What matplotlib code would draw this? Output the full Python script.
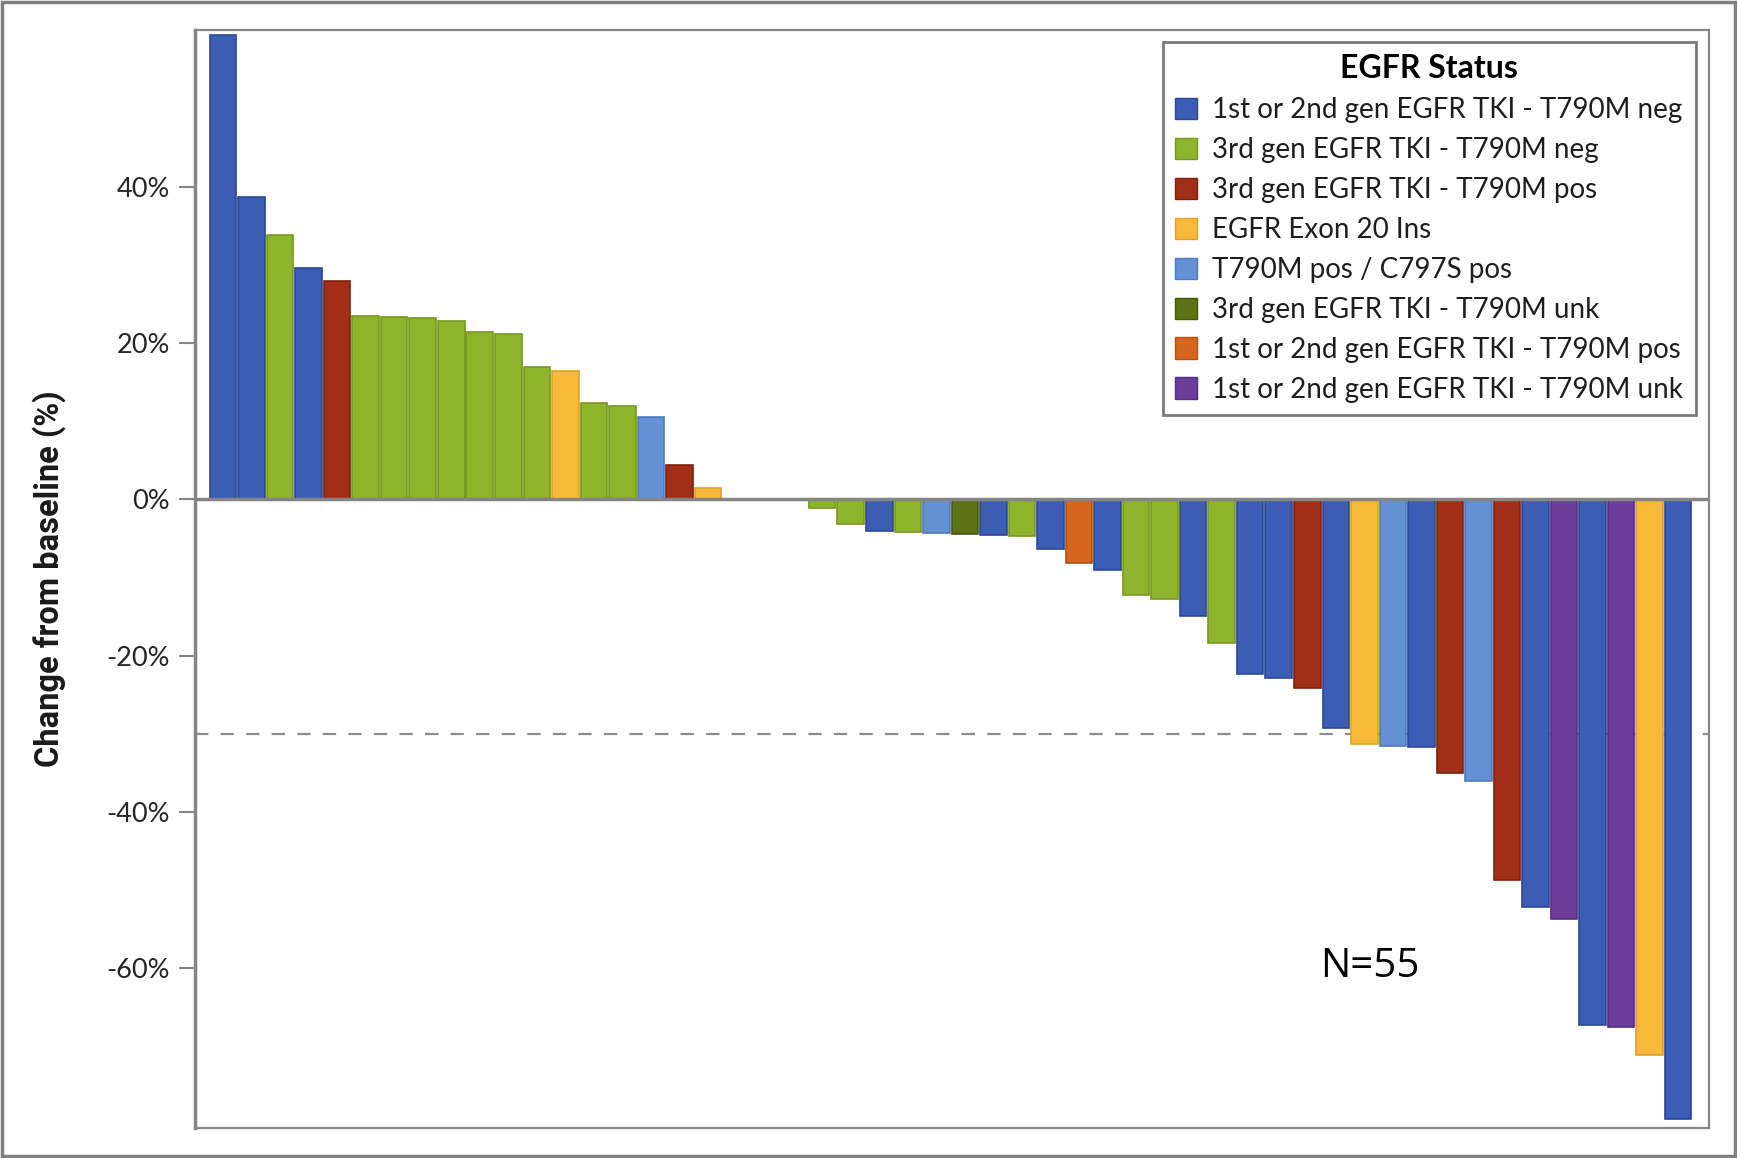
import matplotlib
matplotlib.use("Agg")
import matplotlib.pyplot as plt
from matplotlib.patches import Patch, Rectangle

# EGFR status groups (legend order) and their colours
GROUPS = [
    "1st or 2nd gen EGFR TKI - T790M neg",
    "3rd gen EGFR TKI - T790M neg",
    "3rd gen EGFR TKI - T790M pos",
    "EGFR Exon 20 Ins",
    "T790M pos / C797S pos",
    "3rd gen EGFR TKI - T790M unk",
    "1st or 2nd gen EGFR TKI - T790M pos",
    "1st or 2nd gen EGFR TKI - T790M unk",
]
FILL = ["#3d5cb3", "#8db42b", "#a32e17", "#f7b93a", "#6391d3", "#5d7215", "#d4661f", "#6b3e9b"]
EDGE = ["#2c4896", "#76981f", "#7e200e", "#e0a22a", "#4f7bbd", "#47590c", "#b35212", "#54307e"]

# best % change from baseline, one bar per patient, sorted
change = [59.4, 38.7, 33.9, 29.6, 28.0, 23.5, 23.4, 23.2, 22.9, 21.4, 21.2, 17.0, 16.4,
          12.3, 11.9, 10.6, 4.4, 1.5, 0.0, 0.0, 0.0, -1.1, -3.1, -4.0, -4.2, -4.3, -4.4,
          -4.6, -4.7, -6.4, -8.2, -9.1, -12.3, -12.7, -14.9, -18.4, -22.4, -22.9, -24.2,
          -29.3, -31.3, -31.6, -31.7, -35.1, -36.1, -48.7, -52.2, -53.8, -67.3, -67.6,
          -71.1, -79.4]
# group index of every bar
group = [0, 0, 1, 0, 2, 1, 1, 1, 1, 1, 1, 1, 3, 1, 1, 4, 2, 3, 0, 0, 0, 1, 1, 0, 1, 4,
         5, 0, 1, 0, 6, 0, 1, 1, 0, 1, 0, 0, 2, 0, 3, 4, 0, 2, 4, 2, 0, 7, 0, 7, 3, 0]

yticks = [40, 20, 0, -20, -40, -60]
ytick_labels = [f"{t}%" for t in yticks]
PR_CUTOFF = -30

W, H = 1737, 1158
fig = plt.figure(figsize=(W / 100, H / 100), dpi=100)
ax = fig.add_axes([195 / W, 1 - 1128 / H, (1709 - 195) / W, (1128 - 30) / H])

xs = list(range(len(change)))
ax.bar(xs, change, width=0.93,
       color=[FILL[g] for g in group], edgecolor=[EDGE[g] for g in group],
       linewidth=1.2, zorder=2)

grey = "#858585"
ax.axhline(0, color=grey, lw=2.5, zorder=3)
ax.axhline(PR_CUTOFF, color="#8c8c8c", lw=1.6, dashes=(6, 5.5), zorder=1)

ax.set_xlim(-0.98, 52.08)
ax.set_ylim(-80.5, 60.1)
ax.set_xticks([])
ax.set_yticks(yticks)
ax.set_yticklabels(ytick_labels, fontsize=19.5, family="Lato", color="#262626")
ax.tick_params(axis="y", length=11.5, width=1.5, color=grey, pad=6.5)

for side, sp in ax.spines.items():
    sp.set_color(grey)
    sp.set_linewidth(2.5 if side == "left" else 1.6)

fig.text(0.028, 0.5, "Change from baseline (%)", rotation=90, ha="center", va="center",
         fontsize=23.5, fontweight="bold", family=["Liberation Sans Narrow", "Roboto"],
         color="#1a1a1a")

fig.text(1370 / W, 1 - 967 / H, "N=55", ha="center", va="center", fontsize=29,
         family="Open Sans", color="black")

handles = [Patch(facecolor=f, edgecolor=e, linewidth=1) for f, e in zip(FILL, EDGE)]
leg = ax.legend(handles, GROUPS, title="EGFR Status", loc="upper right",
                bbox_to_anchor=(1696 / W, 1 - 42 / H), bbox_transform=fig.transFigure,
                borderaxespad=0, fancybox=False, framealpha=1, edgecolor="#7a7a7a",
                prop={"family": "Lato", "size": 20}, labelspacing=0.5,
                handlelength=0.8, handleheight=0.8, handletextpad=0.55, borderpad=0.45,
                title_fontproperties={"family": "Lato", "weight": "bold", "size": 23})
leg.get_frame().set_linewidth(2)
for t in leg.get_texts():
    t.set_color("#1e1e1e")

# outer frame around the whole figure
fig.patches.append(Rectangle((0.001, 0.0015), 0.998, 0.997, transform=fig.transFigure,
                             fill=False, edgecolor="#7f7f7f", linewidth=2.5))

fig.savefig("out.png", dpi=100)
